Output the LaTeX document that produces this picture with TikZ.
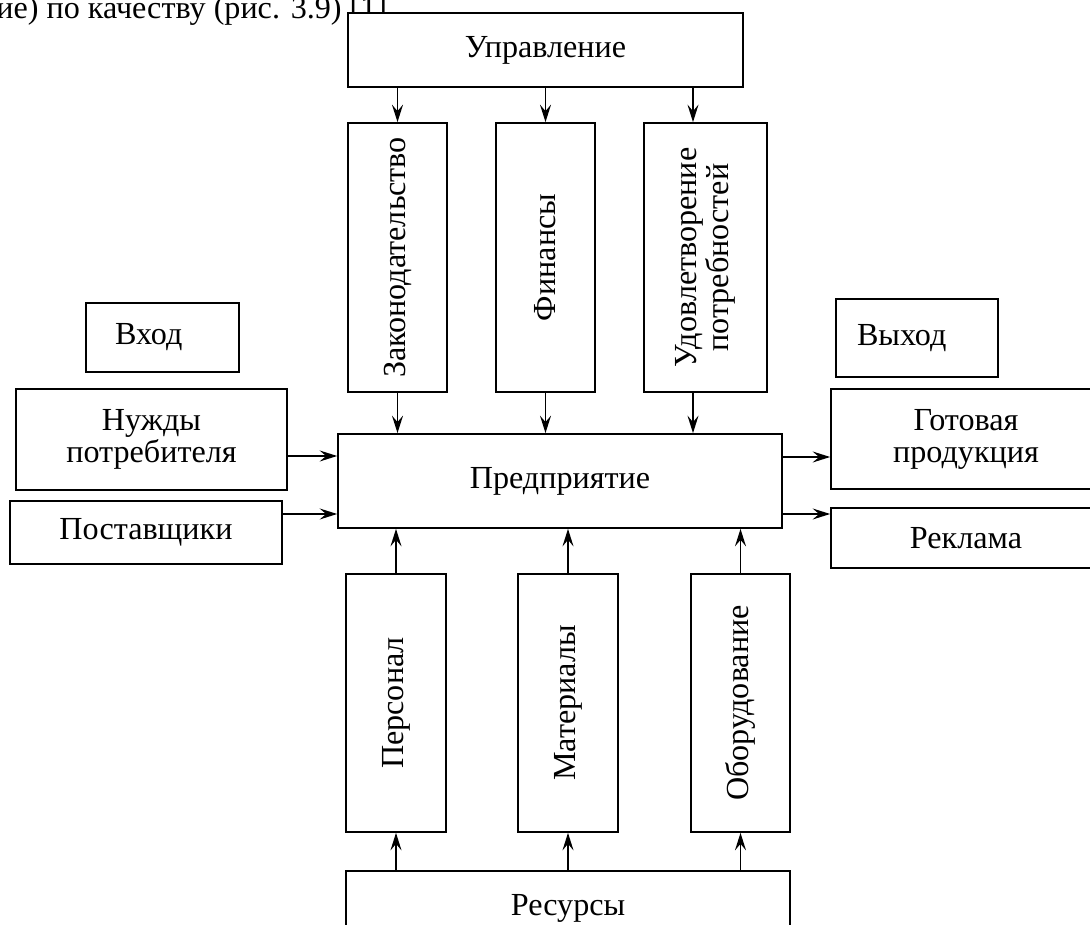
\documentclass[tikz,border=0pt]{standalone}
\usepackage{fontspec}
\setmainfont{Liberation Serif}
\usepackage{tikz}
\usetikzlibrary{arrows.meta}
\tikzstyle{block} = [rectangle, draw=black, fill=white, line width=1pt, inner sep=2pt, text centered, align=center, font=\fontsize{18.3}{18.2}\selectfont]
\tikzstyle{vblock} = [block, rotate=90]
\tikzstyle{arrow} = [line width=1pt, -{Stealth[length=3.5mm, width=2.2mm, inset=1.3mm]}]

\begin{document}
\begin{tikzpicture}[x=0.02cm, y=-0.02cm]
\useasboundingbox (0,0) rectangle (1090,925);
\node (ref) [anchor=base west, font=\fontsize{18.3}{18.2}\selectfont, inner sep=0pt] at (-4,19) {ие) по качеству (рис. 3.9) [1].};

\node (upr) [block, minimum width=7.9cm, minimum height=1.48cm] at (545.5,50) {Управление};
\node (zak) [vblock, minimum width=5.38cm, minimum height=1.98cm] at (397.5,257.5) {Законодательство};
\node (fin) [vblock, minimum width=5.38cm, minimum height=1.98cm] at (545.5,257.5) {Финансы};
\node (udov) [vblock, minimum width=5.38cm, minimum height=2.46cm] at (705.5,257.5) {Удовлетворение\\потребностей};
\node (pred) [block, minimum width=8.88cm, minimum height=1.88cm] at (560,481) {Предприятие};
\node (pers) [vblock, minimum width=5.16cm, minimum height=2cm] at (396,703) {Персонал};
\node (mat) [vblock, minimum width=5.16cm, minimum height=2cm] at (568,703) {Материалы};
\node (obor) [vblock, minimum width=5.16cm, minimum height=1.98cm] at (740.5,703) {Оборудование};
\node (res) [block, minimum width=8.88cm, minimum height=1.48cm] at (568,908) {Ресурсы};

\node (vhod) [block, text width=1.9cm, align=left, inner xsep=0.58cm, minimum height=1.38cm] at (162.5,337.5) {Вход};
\node (nuzhdy) [block, minimum width=5.42cm, minimum height=2.02cm] at (151.5,439.5) {Нужды\\потребителя};
\node (post) [block, minimum width=5.44cm, minimum height=1.26cm] at (146,532.5) {Поставщики};
\node (vyhod) [block, text width=2.4cm, align=left, inner xsep=0.42cm, minimum height=1.56cm] at (917,338) {Выход};
\node (gotov) [block, minimum width=5.4cm, minimum height=2cm] at (966,439) {Готовая\\продукция};
\node (reklama) [block, minimum width=5.4cm, minimum height=1.2cm] at (966,538) {Реклама};

\draw [arrow] (upr.south -| zak.east) -- (zak.east);
\draw [arrow] (upr.south -| fin.east) -- (fin.east);
\draw [arrow] (upr.south -| 693,0) -- (udov.east -| 693,0);
\draw [arrow] (zak.west) -- (zak.west |- pred.north);
\draw [arrow] (fin.west) -- (fin.west |- pred.north);
\draw [arrow] (udov.west -| 693,0) -- (pred.north -| 693,0);

\draw [arrow] (pers.east) -- (pers.east |- pred.south);
\draw [arrow] (mat.east) -- (mat.east |- pred.south);
\draw [arrow] (obor.east) -- (obor.east |- pred.south);
\draw [arrow] (res.north -| pers.west) -- (pers.west);
\draw [arrow] (res.north -| mat.west) -- (mat.west);
\draw [arrow] (res.north -| obor.west) -- (obor.west);

\draw [arrow] (nuzhdy.east |- 0,456) -- (pred.west |- 0,456);
\draw [arrow] (post.east |- 0,514) -- (pred.west |- 0,514);
\draw [arrow] (pred.east |- 0,457) -- (gotov.west |- 0,457);
\draw [arrow] (pred.east |- 0,514) -- (reklama.west |- 0,514);
\end{tikzpicture}
\end{document}
